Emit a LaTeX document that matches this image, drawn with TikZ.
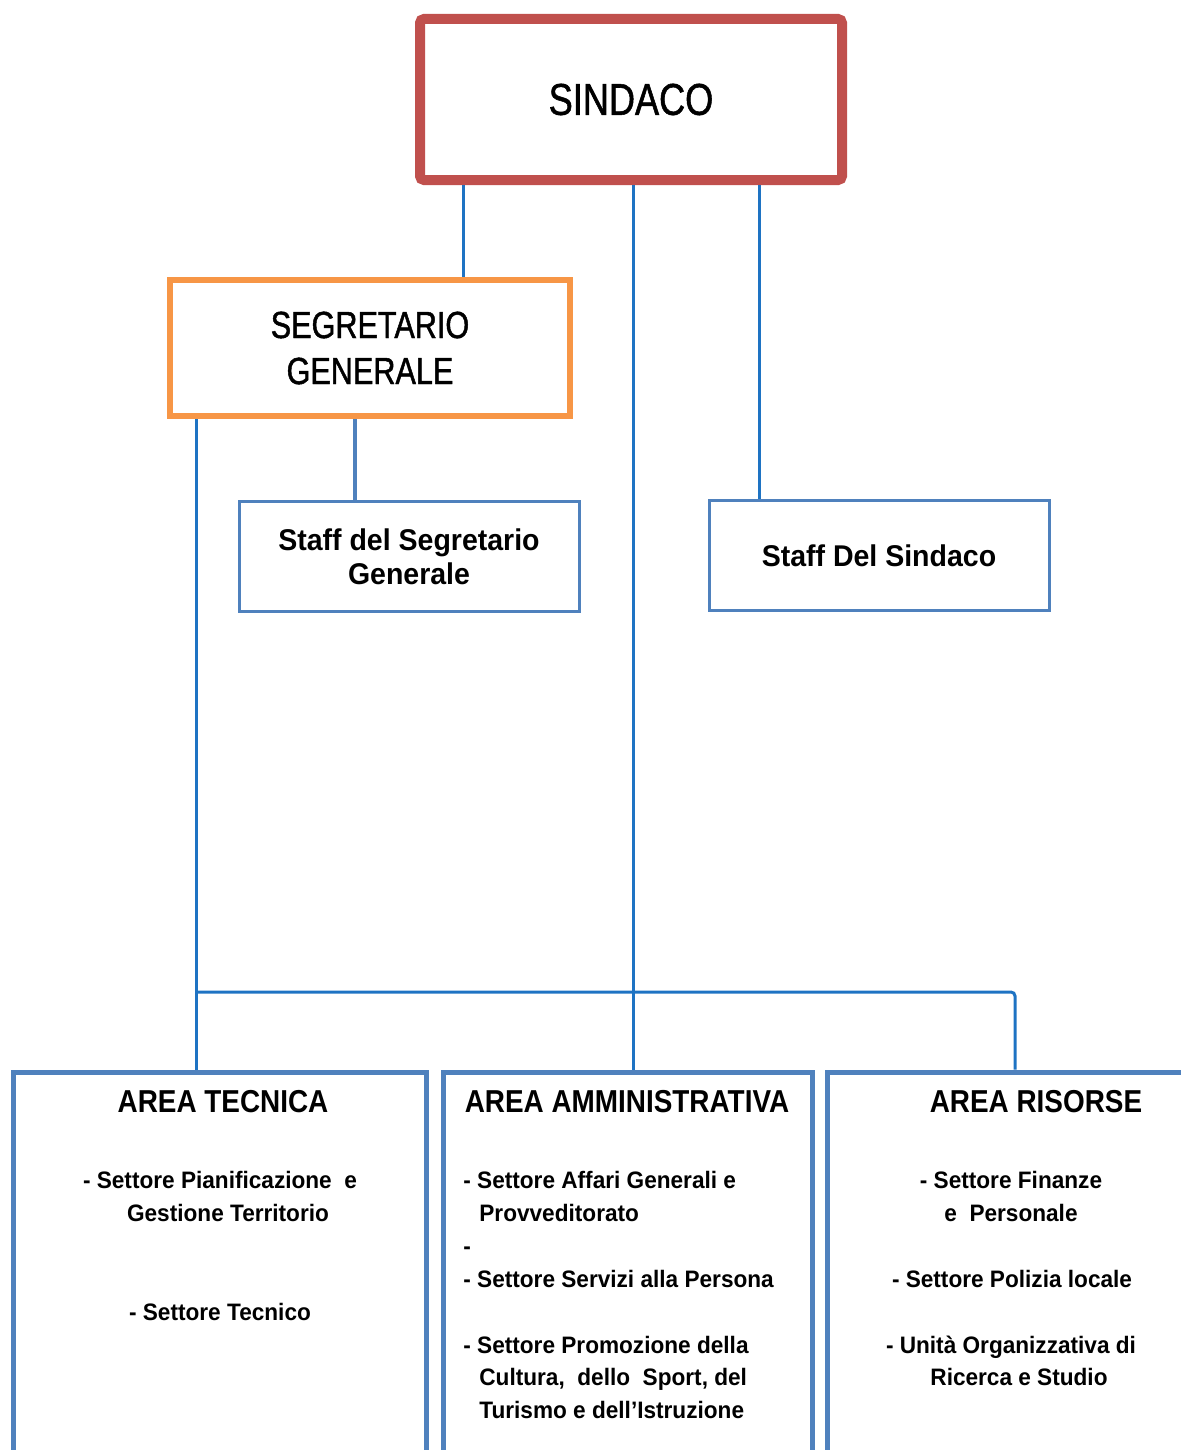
\documentclass[tikz,border=0pt]{standalone}
\usepackage{fontspec}
\setmainfont{Liberation Sans}
\newfontfamily\headfont[FakeStretch=0.81, FakeBold=1.2]{Liberation Sans}
\newfontfamily\areafont[FakeStretch=0.88]{Liberation Sans}
\newfontfamily\itemfont[FakeStretch=0.95]{Liberation Sans}
\usetikzlibrary{positioning}
\definecolor{sindacored}{RGB}{192,80,77}
\definecolor{segrorange}{RGB}{247,150,70}
\definecolor{boxblue}{RGB}{79,129,189}
\definecolor{linkblue}{RGB}{30,115,195}
\tikzset{
    sindacobox/.style={draw=sindacored, line width=5pt, rounded corners=2pt,
        minimum width=211pt, minimum height=80.5pt, inner sep=0pt,
        font=\headfont\fontsize{22.3}{26}\selectfont},
    segrbox/.style={draw=segrorange, line width=3.2pt, minimum width=200pt,
        minimum height=68pt, inner sep=0pt, align=center,
        font=\headfont\fontsize{18.9}{23}\selectfont},
    staffbox/.style={draw=boxblue, line width=1.5pt, minimum width=170pt,
        minimum height=55pt, inner sep=0pt, align=center,
        font=\itemfont\bfseries\fontsize{15}{17}\selectfont},
    areabox/.style={draw=boxblue, line width=2.5pt, inner sep=0pt},
    areatitle/.style={anchor=base, inner sep=0pt,
        font=\areafont\bfseries\fontsize{15.85}{18}\selectfont},
    areaitem/.style={anchor=base, inner sep=0pt,
        font=\itemfont\bfseries\fontsize{11.9}{16}\selectfont},
    link/.style={draw=linkblue, line width=1.5pt}
}
\begin{document}
\begin{tikzpicture}[x=0.5pt, y=-0.5pt]
    \useasboundingbox (0,0) rectangle (1181,1450);
    \clip (0,0) rectangle (1181,1450);
    % boxes
    \node[sindacobox] (sindaco) at (631,99.5) {SINDACO};
    \node[segrbox] (segretario) at (370,348) {SEGRETARIO\\GENERALE};
    \node[staffbox] (staffseg) at (409,556.5) {Staff del Segretario\\Generale};
    \node[staffbox] (staffsind) at (879,555.5) {Staff Del Sindaco};
    \node[areabox, minimum width=206.25pt, minimum height=214pt] (tecnica) at (219.75,1286) {};
    \node[areabox, minimum width=184.5pt, minimum height=214pt] (amm) at (628,1286) {};
    \node[areabox, minimum width=186.5pt, minimum height=214pt] (risorse) at (1013.5,1286) {};
    % titles and sectors
    \node[areatitle] (tecnica-title) at (223,1112.5) {AREA TECNICA};
    \node[areatitle] (amm-title) at (627,1112.5) {AREA AMMINISTRATIVA};
    \node[areatitle] (risorse-title) at (1036,1112.5) {AREA RISORSE};
    \node[areaitem] (tec1) at (220,1188.5) {- Settore Pianificazione~ e};
    \node[areaitem] (tec2) at (228,1221.4) {Gestione Territorio};
    \node[areaitem] (tec3) at (220,1320.1) {- Settore Tecnico};
    \node[areaitem, anchor=base west] (amm1) at (463,1188.5) {- Settore Affari Generali e};
    \node[areaitem, anchor=base west] (amm2) at (479,1221.4) {Provveditorato};
    \node[areaitem, anchor=base west] (amm3) at (463,1254.3) {-};
    \node[areaitem, anchor=base west] (amm4) at (463,1287.2) {- Settore Servizi alla Persona};
    \node[areaitem, anchor=base west] (amm5) at (463,1353) {- Settore Promozione della};
    \node[areaitem, anchor=base west] (amm6) at (479,1385.9) {Cultura,~ dello~ Sport, del};
    \node[areaitem, anchor=base west] (amm7) at (479,1418.8) {Turismo e dell’Istruzione};
    \node[areaitem] (ris1) at (1011,1188.5) {- Settore Finanze};
    \node[areaitem] (ris2) at (1011,1221.4) {e~ Personale};
    \node[areaitem] (ris3) at (1012,1287.2) {- Settore Polizia locale};
    \node[areaitem] (ris4) at (1011,1353) {- Unità Organizzativa di};
    \node[areaitem] (ris5) at (1019,1385.9) {Ricerca e Studio};
    % connectors
    \coordinate (xseg) at (463,0);
    \coordinate (xamm) at (633,0);
    \coordinate (xsind) at (759,0);
    \coordinate (xstaff) at (355,0);
    \coordinate (xtec) at (196,0);
    \coordinate (xris) at (1015,0);
    \coordinate (bus) at (0,992);
    \draw[link] (sindaco.south -| xseg) -- (segretario.north -| xseg);
    \draw[link] (sindaco.south -| xamm) -- (amm.north -| xamm);
    \draw[link] (sindaco.south -| xsind) -- (staffsind.north -| xsind);
    \draw[link, draw=boxblue, line width=2.2pt] (segretario.south -| xstaff) -- (staffseg.north -| xstaff);
    \draw[link] (segretario.south -| xtec) -- (tecnica.north -| xtec);
    \draw[link, rounded corners=2pt] (bus -| xtec) -- (bus -| xris) -- (risorse.north -| xris);
\end{tikzpicture}
\end{document}
